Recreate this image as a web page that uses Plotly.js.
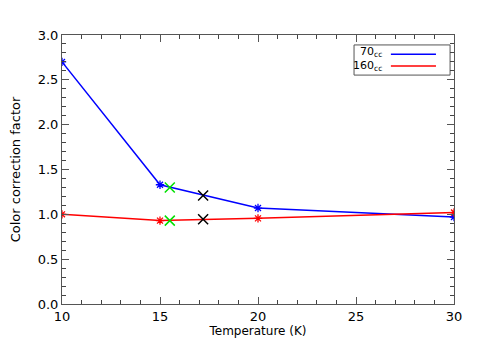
<!DOCTYPE html>
<html>
<head>
<meta charset="utf-8">
<script src="https://cdn.plot.ly/plotly-3.0.1.min.js"></script>
<style>
  html, body { margin: 0; padding: 0; background: #fff; }
  #chart { width: 491px; height: 350px; }
</style>
</head>
<body>
<div id="chart"></div>
<script>
// Colour correction factor vs temperature, two PACS-like bands.
const temps = [10, 15, 20, 30];
const cc70 = [2.70, 1.33, 1.07, 0.97];
const cc160 = [1.00, 0.93, 0.955, 1.02];

// extra reference points (green / black crosses)
const greenT = [15.5, 15.5];
const greenCC = [1.30, 0.93];
const blackT = [17.2, 17.2];
const blackCC = [1.21, 0.945];

const FONT = "DejaVu Sans, sans-serif";
const AX = "#555";

function series(x, y, color) {
  return {
    x, y, type: "scatter", mode: "lines+markers",
    line: { color, width: 1.5 },
    marker: { symbol: "asterisk-open", size: 7, color, line: { color, width: 1.3 } },
    hoverinfo: "skip",
  };
}

function crosses(x, y, color) {
  return {
    x, y, type: "scatter", mode: "markers",
    marker: { symbol: "x-thin-open", size: 10, color, line: { color, width: 1.5 } },
    hoverinfo: "skip",
  };
}

const traces = [
  series(temps, cc70, "#0000ff"),
  series(temps, cc160, "#ff0000"),
  crosses(greenT, greenCC, "#00e000"),
  crosses(blackT, blackCC, "#000000"),
];

const axisCommon = {
  showgrid: false, zeroline: false,
  showline: true, linecolor: AX, linewidth: 1, mirror: "ticks",
  ticks: "inside", ticklen: 7, tickcolor: AX, tickwidth: 1,
  tickfont: { family: FONT, size: 13, color: "#000" },
};

const layout = {
  width: 491, height: 350,
  margin: { l: 62, r: 37, t: 35, b: 46 },
  paper_bgcolor: "#fff", plot_bgcolor: "#fff",
  showlegend: false,
  xaxis: {
    ...axisCommon,
    range: [10, 30],
    tickmode: "linear", tick0: 10, dtick: 5,
    minor: { tickmode: "linear", tick0: 10, dtick: 1, ticks: "inside", ticklen: 4, tickwidth: 1, tickcolor: "#444", showgrid: false },
    title: { text: "Temperature (K)", font: { family: FONT, size: 12, color: "#000" }, standoff: 3 },
  },
  yaxis: {
    ...axisCommon,
    range: [0, 3],
    tickmode: "linear", tick0: 0, dtick: 0.5, tickformat: ".1f",
    minor: { tickmode: "linear", tick0: 0, dtick: 0.1, ticks: "inside", ticklen: 4, tickwidth: 1, tickcolor: "#444", showgrid: false },
    title: { text: "Color correction factor", font: { family: FONT, size: 13, color: "#000" }, standoff: 14 },
  },
  shapes: [
    { type: "rect", xref: "paper", yref: "paper", x0: 0.745, x1: 0.99, y0: 0.851, y1: 0.963,
      line: { color: AX, width: 1 }, fillcolor: "#fff", layer: "below" },
    { type: "line", xref: "paper", yref: "paper", x0: 0.839, x1: 0.954, y0: 0.928, y1: 0.928,
      line: { color: "#0000ff", width: 1.5 } },
    { type: "line", xref: "paper", yref: "paper", x0: 0.839, x1: 0.954, y0: 0.885, y1: 0.885,
      line: { color: "#ff0000", width: 1.5 } },
  ],
  annotations: [
    { xref: "paper", yref: "paper", x: 0.822, y: 0.935, xanchor: "right", yanchor: "middle",
      text: "70<sub>cc</sub>", showarrow: false, font: { family: FONT, size: 11, color: "#000" } },
    { xref: "paper", yref: "paper", x: 0.822, y: 0.884, xanchor: "right", yanchor: "middle",
      text: "160<sub>cc</sub>", showarrow: false, font: { family: FONT, size: 11, color: "#000" } },
  ],
};

Plotly.newPlot("chart", traces, layout, { displayModeBar: false, staticPlot: true });
</script>
</body>
</html>
